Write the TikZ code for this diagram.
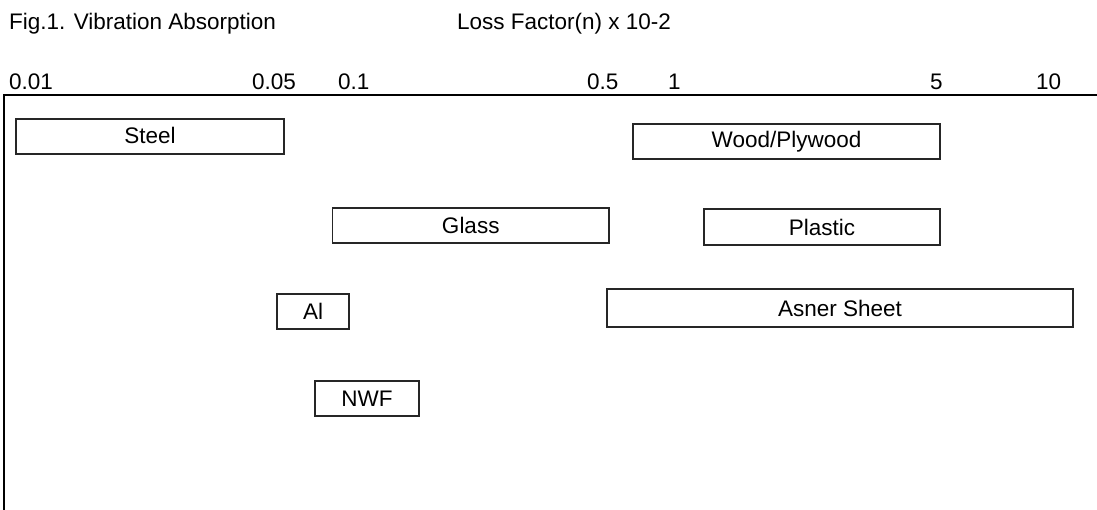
\documentclass[tikz,border=0pt]{standalone}
\usepackage{fontspec}
\setmainfont{Liberation Sans}
\begin{document}
\begin{tikzpicture}[x=1pt,y=-1pt,
  txt/.style={inner sep=0pt, anchor=base west, font=\fontsize{22.5}{26}\selectfont},
  bar/.style={draw=black!85, line width=1.2pt, inner sep=0pt, font=\fontsize{22.5}{26}\selectfont},
  axisline/.style={line width=2pt, black}]
\useasboundingbox (0,0) rectangle (1097,510);
% titles
\node[txt] (title) at (9,30) {Fig.1. Vibration Absorption};
\node[txt] (loss) at (457,30) {Loss Factor(n) x 10-2};
% axis labels
\node[txt] (t001) at (9,90) {0.01};
\node[txt] (t005) at (252,90) {0.05};
\node[txt] (t01) at (338,90) {0.1};
\node[txt] (t05) at (587,90) {0.5};
\node[txt] (t1) at (668,90) {1};
\node[txt] (t5) at (930,90) {5};
\node[txt] (t10) at (1036,90) {10};
% axes
\coordinate (corner) at (4,95);
\coordinate (right) at (1097,95);
\coordinate (bottom) at (4,510);
\draw[axisline] (bottom) -- (corner) -- (right);
% bars
\node[bar, minimum width=268pt, minimum height=35pt] (steel) at (150,136.5) {\raisebox{2pt}{Steel}};
\node[bar, minimum width=307pt, minimum height=35pt] (wood) at (786.5,141.5) {Wood/Plywood};
\node[bar, minimum width=276.5pt, minimum height=35pt] (glass) at (470.75,225.5) {Glass};
\node[bar, minimum width=236pt, minimum height=36pt] (plastic) at (822,227) {Plastic};
\node[bar, minimum width=72pt, minimum height=35pt] (al) at (313,311.5) {Al};
\node[bar, minimum width=466pt, minimum height=38pt] (asner) at (840,308) {Asner Sheet};
\node[bar, minimum width=104pt, minimum height=35pt] (nwf) at (367,398.5) {NWF};
\end{tikzpicture}
\end{document}
